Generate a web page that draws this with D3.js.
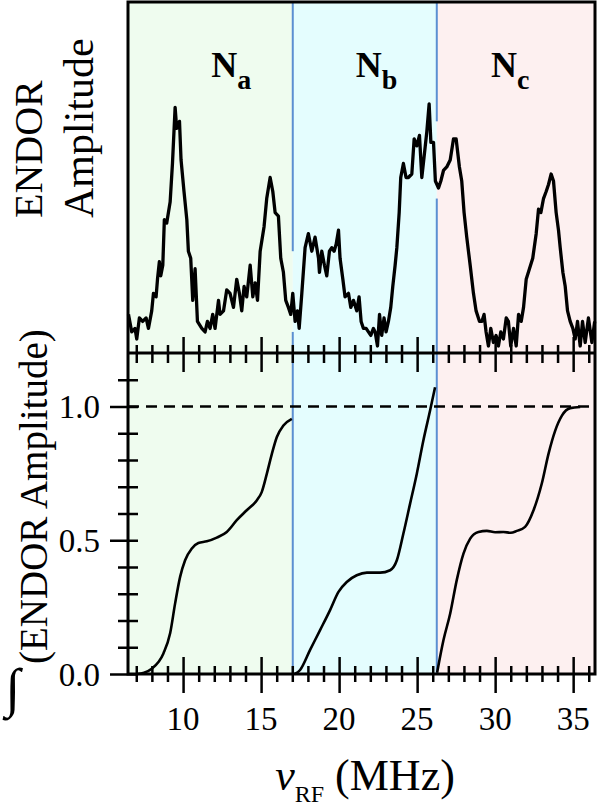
<!DOCTYPE html>
<html>
<head>
<meta charset="utf-8">
<script src="https://cdn.jsdelivr.net/npm/d3@7"></script>
<style>
  body { margin: 0; background: #fff; }
</style>
</head>
<body>
<div id="chart"></div>
<script>
// ENDOR spectrum (top panel), frequency in MHz / amplitude in a.u.
var specFreq = [6.50, 6.71, 6.92, 7.03, 7.20, 7.41, 7.63, 7.78, 7.99, 8.10, 8.27, 8.36, 8.48, 8.57, 8.70, 8.80, 8.95, 9.17,
  9.32, 9.49, 9.59, 9.77, 9.87, 10.06, 10.24, 10.34, 10.49, 10.62, 10.77, 10.92, 11.20, 11.41, 11.56, 11.73, 11.90, 12.05,
  12.27, 12.37, 12.59, 12.80, 13.01, 13.23, 13.44, 13.61, 13.76, 13.91, 14.08, 14.30, 14.47, 14.62, 14.77, 14.94, 15.19,
  15.36, 15.58, 15.75, 15.90, 16.11, 16.26, 16.43, 16.58, 16.75, 16.90, 17.03, 17.18, 17.33, 17.44, 17.61, 17.82, 18.03,
  18.25, 18.46, 18.68, 18.74, 18.89, 19.06, 19.21, 19.38, 19.53, 19.68, 19.81, 19.96, 20.06, 20.24, 20.38, 20.60, 20.75,
  20.92, 21.13, 21.28, 21.41, 21.56, 21.73, 21.88, 22.03, 22.20, 22.31, 22.46, 22.59, 22.73, 22.88, 23.01, 23.16, 23.31,
  23.44, 23.59, 23.70, 23.85, 23.95, 24.12, 24.29, 24.44, 24.66, 24.81, 24.98, 25.15, 25.30, 25.45, 25.62, 25.77, 25.88,
  26.05, 26.17, 26.37, 26.52, 26.69, 26.90, 27.12, 27.33, 27.50, 27.71, 27.86, 28.01, 28.18, 28.40, 28.61, 28.78, 29.00,
  29.15, 29.29, 29.42, 29.57, 29.72, 29.89, 30.06, 30.21, 30.36, 30.53, 30.71, 30.85, 31.00, 31.18, 31.35, 31.50, 31.67,
  31.82, 31.99, 32.20, 32.41, 32.63, 32.78, 32.93, 33.10, 33.27, 33.42, 33.59, 33.74, 33.91, 34.06, 34.17, 34.34, 34.49,
  34.64, 34.81, 34.98, 35.13, 35.28, 35.45, 35.60, 35.77, 35.98, 36.20, 36.38];
var specAmp = [0.11, 0.06, 0.07, 0.04, 0.10, 0.09, 0.10, 0.07, 0.12, 0.17, 0.16, 0.21, 0.26, 0.22, 0.25, 0.38, 0.37, 0.43,
  0.54, 0.70, 0.64, 0.66, 0.55, 0.46, 0.38, 0.29, 0.27, 0.15, 0.24, 0.09, 0.07, 0.06, 0.09, 0.07, 0.11, 0.07,
  0.15, 0.11, 0.12, 0.18, 0.17, 0.13, 0.21, 0.17, 0.12, 0.19, 0.16, 0.25, 0.16, 0.20, 0.15, 0.29, 0.36,
  0.44, 0.50, 0.46, 0.40, 0.39, 0.27, 0.23, 0.15, 0.13, 0.11, 0.17, 0.09, 0.12, 0.07, 0.17, 0.30, 0.34,
  0.29, 0.33, 0.27, 0.23, 0.29, 0.25, 0.22, 0.29, 0.30, 0.29, 0.31, 0.35, 0.27, 0.21, 0.16, 0.17, 0.13,
  0.15, 0.12, 0.16, 0.09, 0.07, 0.07, 0.06, 0.05, 0.07, 0.06, 0.02, 0.11, 0.05, 0.10, 0.06, 0.09, 0.13,
  0.19, 0.25, 0.30, 0.40, 0.50, 0.54, 0.50, 0.50, 0.51, 0.61, 0.59, 0.62, 0.50, 0.56, 0.63, 0.71, 0.60,
  0.60, 0.49, 0.47, 0.49, 0.52, 0.53, 0.55, 0.61, 0.61, 0.53, 0.49, 0.40, 0.33, 0.25, 0.17, 0.12, 0.09,
  0.09, 0.11, 0.06, 0.02, 0.07, 0.03, 0.05, 0.02, 0.06, 0.04, 0.10, 0.09, 0.02, 0.07, 0.02, 0.11, 0.09,
  0.13, 0.21, 0.24, 0.27, 0.34, 0.41, 0.40, 0.44, 0.46, 0.48, 0.51, 0.49, 0.40, 0.35, 0.30, 0.23, 0.19,
  0.12, 0.09, 0.07, 0.04, 0.09, 0.02, 0.09, 0.03, 0.10, 0.03, 0.09];

// integrated spectrum, one piece per nitrogen
var intNaFreq = [7.05, 7.50, 7.99, 8.74, 9.17, 9.49, 9.81, 10.13, 10.56, 10.98, 11.52, 12.16, 12.80, 13.44, 14.08, 14.72,
  15.04, 15.37, 15.69, 16.01, 16.43, 16.97];
var intNaVal = [0.0, 0.005, 0.02, 0.077, 0.152, 0.264, 0.363, 0.425, 0.469, 0.49, 0.496, 0.51, 0.531, 0.575, 0.612, 0.649,
  0.68, 0.749, 0.823, 0.886, 0.929, 0.954];
var intNbFreq = [17.15, 17.50, 18.14, 18.78, 19.42, 19.96, 20.49, 21.13, 21.78, 22.63, 23.27, 23.70, 24.12, 24.55, 24.98,
  25.40, 25.83, 26.15];
var intNbVal = [0.0, 0.015, 0.09, 0.164, 0.239, 0.307, 0.344, 0.369, 0.379, 0.379, 0.388, 0.425, 0.525, 0.637, 0.749,
  0.873, 0.985, 1.072];
var intNcFreq = [26.28, 26.69, 27.12, 27.54, 27.97, 28.40, 28.93, 29.47, 30.00, 30.53, 31.00, 31.39, 31.92, 32.46, 32.99,
  33.42, 33.85, 34.28, 34.81, 35.45];
var intNcVal = [0.005, 0.127, 0.226, 0.351, 0.45, 0.506, 0.531, 0.535, 0.53, 0.531, 0.528, 0.535, 0.55, 0.612, 0.712,
  0.823, 0.91, 0.966, 0.994, 0.998];

// shaded regions (MHz) and their labels
var regionEdges = [6.47, 17.03, 26.26, 36.4];
var regionSubs = ["a", "b", "c"];
var labelFreq = [13.08, 22.4, 30.96];
var dividerGaps = [[0.06, 0.29], [0.44, 0.66]];   // where the spectrum hides the divider (a.u.)

var xMajor = [10, 15, 20, 25, 30, 35];
var yMajor = [0.0, 0.5, 1.0];

var width = 600, height = 809;
var serif = "'Liberation Serif'";
var regionColors = ["#effcef", "#e4fdfe", "#fdf0f0"];

var svg = d3.select("#chart").append("svg")
  .attr("width", width).attr("height", height);

var x = d3.scaleLinear().domain([6.47, 36.4]).range([128, 595]);
var yTop = d3.scaleLinear().domain([0, 1]).range([353, 2]);
var yBot = d3.scaleLinear().domain([0, 1.2]).range([674, 353]);

// background bands
svg.selectAll("rect.band")
  .data(regionColors)
  .enter().append("rect")
    .attr("class", "band")
    .attr("x", function(d, i) { return x(regionEdges[i]); })
    .attr("width", function(d, i) { return x(regionEdges[i + 1]) - x(regionEdges[i]); })
    .attr("y", yTop(1))
    .attr("height", yBot(0) - yTop(1))
    .attr("fill", function(d) { return d; });

// blue dividers
var dividers = regionEdges.slice(1, 3);
dividers.forEach(function(f, i) {
  var segs = [[0, dividerGaps[i][0]], [dividerGaps[i][1], 1]];
  segs.forEach(function(s) {
    svg.append("line")
      .attr("x1", x(f)).attr("x2", x(f))
      .attr("y1", yTop(s[0])).attr("y2", yTop(s[1]))
      .attr("stroke", "#5b8fd2").attr("stroke-width", 2);
  });
  svg.append("line")
    .attr("x1", x(f)).attr("x2", x(f))
    .attr("y1", yBot(0)).attr("y2", yBot(1.2))
    .attr("stroke", "#5b8fd2").attr("stroke-width", 2);
});

// dashed line at 1.0
svg.append("line")
  .attr("x1", x.range()[0]).attr("x2", x.range()[1])
  .attr("y1", yBot(1)).attr("y2", yBot(1))
  .attr("stroke", "#000").attr("stroke-width", 2.5)
  .attr("stroke-dasharray", "11,7");

// spectrum
var spec = specFreq.map(function(f, i) { return [f, specAmp[i]]; });
svg.append("path")
  .datum(spec)
  .attr("fill", "none")
  .attr("stroke", "#000")
  .attr("stroke-width", 3.3)
  .attr("stroke-linejoin", "round")
  .attr("d", d3.line()
    .x(function(d) { return x(d[0]); })
    .y(function(d) { return yTop(d[1]); }));

// integrals
var ints = [[intNaFreq, intNaVal], [intNbFreq, intNbVal], [intNcFreq, intNcVal]];
var intLine = d3.line()
  .curve(d3.curveMonotoneX)
  .x(function(d) { return x(d[0]); })
  .y(function(d) { return yBot(d[1]); });
ints.forEach(function(p) {
  svg.append("path")
    .datum(p[0].map(function(f, i) { return [f, p[1][i]]; }))
    .attr("fill", "none")
    .attr("stroke", "#000")
    .attr("stroke-width", 2.6)
    .attr("d", intLine);
});

// frames
svg.append("rect")
  .attr("x", x.range()[0]).attr("y", yTop(1))
  .attr("width", x.range()[1] - x.range()[0]).attr("height", yBot(0) - yTop(1))
  .attr("fill", "none").attr("stroke", "#000").attr("stroke-width", 3);
svg.append("line")
  .attr("x1", x.range()[0]).attr("x2", x.range()[1])
  .attr("y1", yBot(1.2)).attr("y2", yBot(1.2))
  .attr("stroke", "#000").attr("stroke-width", 3);

// ticks crossing the axis lines
var xMinor = d3.range(7, 37).filter(function(v) { return xMajor.indexOf(v) < 0; });
function xTicks(yPos, vals, up, down) {
  svg.append("g")
    .attr("transform", "translate(0," + yPos + ")")
    .call(d3.axisBottom(x).tickValues(vals).tickSize(0).tickFormat(""))
    .call(function(g) { g.select(".domain").remove(); })
    .selectAll(".tick line")
      .attr("y1", -up).attr("y2", down)
      .attr("stroke-width", 2.5);
}
xTicks(yBot(1.2), xMinor, 8, 10);
xTicks(yBot(1.2), xMajor, 16, 19);
xTicks(yBot(0), xMinor, 8, 8);
xTicks(yBot(0), xMajor, 17, 19);

var yMinor = [0.1, 0.2, 0.3, 0.4, 0.6, 0.7, 0.8, 0.9, 1.1];
function yTicks(vals, outer, inner) {
  svg.append("g")
    .attr("transform", "translate(" + x.range()[0] + ",0)")
    .call(d3.axisLeft(yBot).tickValues(vals).tickSize(0).tickFormat(""))
    .call(function(g) { g.select(".domain").remove(); })
    .selectAll(".tick line")
      .attr("x1", -outer).attr("x2", inner)
      .attr("stroke-width", 2.5);
}
yTicks(yMinor, 10, 10);
yTicks(yMajor, 18, 10);

// tick labels
svg.selectAll("text.xt")
  .data(xMajor)
  .enter().append("text")
    .attr("class", "xt")
    .attr("x", function(d) { return x(d); })
    .attr("y", 730)
    .attr("text-anchor", "middle")
    .style("font-family", serif)
    .style("font-size", "33px")
    .text(function(d) { return d; });
svg.selectAll("text.yt")
  .data(yMajor)
  .enter().append("text")
    .attr("class", "yt")
    .attr("x", 100)
    .attr("y", function(d) { return yBot(d); })
    .attr("dy", "0.35em")
    .attr("text-anchor", "end")
    .style("font-family", serif)
    .style("font-size", "33px")
    .text(function(d) { return d3.format(".1f")(d); });

// region labels
var lab = svg.selectAll("text.reg")
  .data(regionSubs)
  .enter().append("text")
    .attr("class", "reg")
    .attr("x", function(d, i) { return x(labelFreq[i]); })
    .attr("y", yTop(0.786))
    .attr("text-anchor", "middle")
    .style("font-family", serif)
    .style("font-weight", "bold");
lab.append("tspan").style("font-size", "36px").text("N");
lab.append("tspan").style("font-size", "28px").attr("dy", 12).text(function(d) { return d; });

// axis titles
svg.append("text")
  .attr("transform", "translate(42,218) rotate(-90)")
  .style("font-family", serif)
  .style("font-size", "40px")
  .text("ENDOR");
svg.append("text")
  .attr("transform", "translate(93,218) rotate(-90)")
  .style("font-family", serif)
  .style("font-size", "42px")
  .text("Amplitude");

svg.append("text")
  .attr("x", 13).attr("y", 706)
  .attr("text-anchor", "middle")
  .style("font-family", serif)
  .style("font-size", "54px")
  .text("\u222B");
svg.append("text")
  .attr("transform", "translate(47,664) rotate(-90)")
  .style("font-family", serif)
  .style("font-size", "39px")
  .text("(ENDOR Amplitude)");

var xl = svg.append("text")
  .attr("x", 365).attr("y", 790)
  .attr("text-anchor", "middle")
  .style("font-family", serif)
  .style("font-size", "44px");
xl.append("tspan").style("font-style", "italic").text("\u03BD");
xl.append("tspan").style("font-size", "24px").attr("dy", 12).text("RF");
xl.append("tspan").attr("dy", -12).text(" (MHz)");
</script>
</body>
</html>
